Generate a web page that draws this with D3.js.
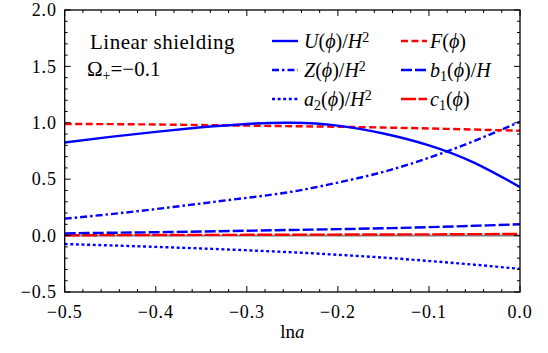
<!DOCTYPE html>
<html>
<head>
<meta charset="utf-8">
<script src="https://cdn.jsdelivr.net/npm/d3@7"></script>
<style>
  body { margin: 0; background: #fff; }
  svg { display: block; }
</style>
</head>
<body>
<svg id="chart" width="548" height="353"></svg>
<script>
// ln a sample points
const lnA = [-0.5, -0.45, -0.4, -0.35, -0.3, -0.25, -0.2, -0.15, -0.1, -0.05, 0.0];

// series values at each ln a
const U  = [0.825, 0.875, 0.92, 0.96, 0.99, 1.0, 0.975, 0.905, 0.80, 0.645, 0.43];
const Z  = [0.15, 0.19, 0.235, 0.285, 0.335, 0.39, 0.47, 0.565, 0.69, 0.84, 1.01];
const a2 = [-0.075, -0.087, -0.1, -0.114, -0.13, -0.148, -0.17, -0.195, -0.225, -0.258, -0.295];
const F  = [0.99, 0.988, 0.985, 0.98, 0.975, 0.97, 0.965, 0.958, 0.95, 0.94, 0.93];
const b1 = [0.02, 0.025, 0.03, 0.036, 0.043, 0.05, 0.057, 0.065, 0.075, 0.087, 0.10];
const c1 = [0.003, 0.004, 0.005, 0.006, 0.007, 0.008, 0.009, 0.010, 0.011, 0.013, 0.015];

const xTicks = [-0.5, -0.4, -0.3, -0.2, -0.1, 0.0];
const yTicks = [-0.5, 0.0, 0.5, 1.0, 1.5, 2.0];

const series = [
  {values: U,  color: "#0000ff", dash: null,          math: [["U", 1], ["(", 0], ["ϕ", 1], [")/", 0], ["H", 1], ["2", 0, "sup"]]},
  {values: Z,  color: "#0000ff", dash: "7,3,2.5,3",   math: [["Z", 1], ["(", 0], ["ϕ", 1], [")/", 0], ["H", 1], ["2", 0, "sup"]]},
  {values: a2, color: "#0000ff", dash: "3,2.6",       math: [["a", 1], ["2", 0, "sub"], ["(", 0], ["ϕ", 1], [")/", 0], ["H", 1], ["2", 0, "sup"]]},
  {values: F,  color: "#ff0000", dash: "7,3.5",       math: [["F", 1], ["(", 0], ["ϕ", 1], [")", 0]]},
  {values: b1, color: "#0000ff", dash: "11,3",        math: [["b", 1], ["1", 0, "sub"], ["(", 0], ["ϕ", 1], [")/", 0], ["H", 1]]},
  {values: c1, color: "#ff0000", dash: "15,2.5",      math: [["c", 1], ["1", 0, "sub"], ["(", 0], ["ϕ", 1], [")", 0]]}
];

const svg = d3.select("#chart")
  .attr("font-family", "Liberation Serif")
  .attr("fill", "#000");
const margin = {left: 64.7, right: 28, top: 10, bottom: 61};
const W = 548, H = 353;

const x = d3.scaleLinear().domain([-0.5, 0]).range([margin.left, W - margin.right]);
const y = d3.scaleLinear().domain([-0.5, 2.0]).range([H - margin.bottom, margin.top]);

const plot = svg.append("g");

plot.append("defs").append("clipPath").attr("id", "clip")
  .append("rect")
  .attr("x", x(-0.5)).attr("y", y(2.0))
  .attr("width", x(0) - x(-0.5)).attr("height", y(-0.5) - y(2.0));

// zero reference line
plot.append("line")
  .attr("x1", x(-0.5)).attr("x2", x(0))
  .attr("y1", y(0)).attr("y2", y(0))
  .attr("stroke", "#808080").attr("stroke-width", 1.6);

const line = d3.line()
  .x((d, i) => x(lnA[i]))
  .y(d => y(d))
  .curve(d3.curveNatural);

// draw back to front: c1 first so it sits under the others
const drawOrder = [5, 4, 2, 1, 3, 0];
const curves = plot.append("g").attr("clip-path", "url(#clip)");
drawOrder.forEach(k => {
  const s = series[k];
  curves.append("path")
    .datum(s.values)
    .attr("d", line)
    .attr("fill", "none")
    .attr("stroke", s.color)
    .attr("stroke-width", 2.4)
    .attr("stroke-dasharray", s.dash);
});

// frame
plot.append("rect")
  .attr("x", x(-0.5)).attr("y", y(2.0))
  .attr("width", x(0) - x(-0.5)).attr("height", y(-0.5) - y(2.0))
  .attr("fill", "none").attr("stroke", "#000").attr("stroke-width", 1.3);

// inward ticks on all four sides
const xMinor = d3.range(-0.5, 0.0001, 0.02);
const yMinor = d3.range(-0.5, 2.0001, 0.1);
const tickG = plot.append("g").attr("stroke", "#000").attr("stroke-width", 1);
xMinor.forEach(v => {
  const major = xTicks.some(t => Math.abs(t - v) < 1e-6);
  const len = major ? 6 : 3;
  tickG.append("line").attr("x1", x(v)).attr("x2", x(v)).attr("y1", y(-0.5)).attr("y2", y(-0.5) - len);
  tickG.append("line").attr("x1", x(v)).attr("x2", x(v)).attr("y1", y(2.0)).attr("y2", y(2.0) + len);
});
yMinor.forEach(v => {
  const major = yTicks.some(t => Math.abs(t - v) < 1e-6);
  const len = major ? 6 : 3;
  tickG.append("line").attr("y1", y(v)).attr("y2", y(v)).attr("x1", x(-0.5)).attr("x2", x(-0.5) + len);
  tickG.append("line").attr("y1", y(v)).attr("y2", y(v)).attr("x1", x(0)).attr("x2", x(0) - len);
});

const fmt = d3.format(".1f");
plot.append("g").selectAll("text").data(xTicks).join("text")
  .attr("x", d => x(d)).attr("y", y(-0.5) + 26)
  .attr("text-anchor", "middle")
  .attr("font-size", 18).attr("letter-spacing", 0.8)
  .text(d => fmt(d));

plot.append("g").selectAll("text").data(yTicks).join("text")
  .attr("x", x(-0.5) - 8).attr("y", d => y(d)).attr("dy", "0.34em")
  .attr("text-anchor", "end")
  .attr("font-size", 18).attr("letter-spacing", 0.8)
  .text(d => fmt(d));

// axis label: ln a
const xl = svg.append("text")
  .attr("x", (x(-0.5) + x(0)) / 2).attr("y", 338)
  .attr("text-anchor", "middle").attr("font-size", 19);
xl.append("tspan").text("ln");
xl.append("tspan").attr("font-style", "italic").text("a");

// annotation
svg.append("text").attr("x", 90).attr("y", 49).attr("font-size", 21).attr("letter-spacing", 0.5).text("Linear shielding");
const om = svg.append("text").attr("x", 87).attr("y", 76).attr("font-size", 21);
om.append("tspan").text("Ω");
om.append("tspan").attr("font-size", 14).attr("dy", 4).text("+");
om.append("tspan").attr("dy", -4).text("=−0.1");

// legend, two columns of three
function mathLabel(g, parts) {
  const t = g.append("text").attr("x", 0).attr("y", 7).attr("font-size", 20);
  parts.forEach(([s, it, pos]) => {
    const sp = t.append("tspan").text(s);
    if (it) sp.attr("font-style", "italic");
    if (pos === "sup") sp.attr("font-size", 14).attr("baseline-shift", "45%");
    if (pos === "sub") sp.attr("font-size", 14).attr("baseline-shift", "-25%");
  });
}

const legendCols = [272, 401];
const legendRows = [41, 70, 99];
series.forEach((s, i) => {
  const col = Math.floor(i / 3), row = i % 3;
  const g = svg.append("g").attr("transform", `translate(${legendCols[col]},${legendRows[row]})`);
  g.append("line").attr("x1", 0).attr("x2", 26).attr("y1", 0).attr("y2", 0)
    .attr("stroke", s.color).attr("stroke-width", 2.4)
    .attr("stroke-dasharray", s.dash);
  mathLabel(g.append("g").attr("transform", `translate(${col ? 29 : 32},0)`), s.math);
});
</script>
</body>
</html>
